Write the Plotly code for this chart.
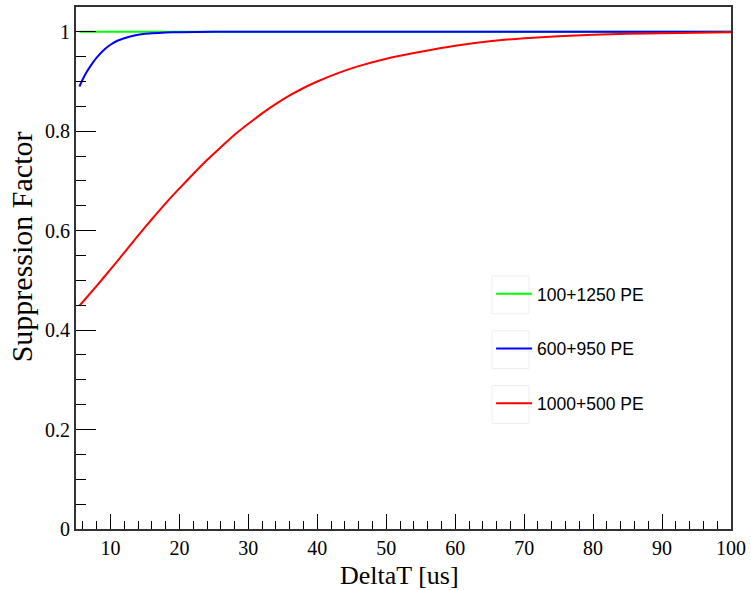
import plotly.graph_objects as go

# ---- data ----
t_green = [5.5, 10, 20, 30, 40, 50, 60, 70, 80, 90, 100]
v_green = [1.0, 1.0, 1.0, 1.0, 1.0, 1.0, 1.0, 1.0, 1.0, 1.0, 1.0]

t_blue = [5.5, 6.0, 6.5, 7.0, 7.5, 8.0, 9.0, 10, 11, 12, 13, 14, 15, 16, 18, 20, 25, 30,
          40, 50, 60, 70, 80, 90, 100]
v_blue = [0.890, 0.905, 0.918, 0.929, 0.939, 0.948, 0.963, 0.974, 0.982, 0.987, 0.991,
          0.994, 0.996, 0.997, 0.9985, 0.9993, 0.9999, 1.0, 1.0, 1.0, 1.0, 1.0, 1.0, 1.0, 1.0]

t_red = [5.5, 8, 10, 12, 14, 16, 18, 20, 22, 24, 26, 28, 30, 32, 34, 36, 38, 40, 43, 46,
         50, 55, 60, 65, 70, 75, 80, 85, 90, 95, 100]
v_red = [0.449, 0.489, 0.522, 0.556, 0.590, 0.623, 0.655, 0.685, 0.714, 0.742, 0.768,
         0.793, 0.815, 0.836, 0.855, 0.872, 0.887, 0.900, 0.917, 0.931, 0.946, 0.960,
         0.972, 0.981, 0.987, 0.991, 0.994, 0.996, 0.997, 0.998, 0.999]

names = ["100+1250 PE", "600+950 PE", "1000+500 PE"]
colors = ["#00ff00", "#0000ff", "#ff0000"]

x_title = "DeltaT [us]"
y_title = "Suppression Factor"

# ---- figure ----
fig = go.Figure()
for i, (tx, vy) in enumerate([(t_green, v_green), (t_blue, v_blue), (t_red, v_red)]):
    fig.add_trace(go.Scatter(
        x=tx, y=vy, mode="lines", name=names[i], legendgroup=f"g{i}",
        line=dict(color=colors[i], width=2, shape="spline", smoothing=0.6),
    ))

L, R, T, B = 76, 17, 5, 61
W, H = 751, 590
pw, ph = W - L - R, H - T - B

def px_x(p):
    return (p - L) / pw

def px_y(p):
    return (H - B - p) / ph

serif = "Liberation Serif"
fig.update_layout(
    width=W, height=H,
    margin=dict(l=L, r=R, t=T, b=B, pad=0),
    paper_bgcolor="white", plot_bgcolor="white",
    font=dict(family=serif, size=20, color="black"),
    showlegend=True,
    legend=dict(
        x=px_x(493), y=px_y(275), xanchor="left", yanchor="top",
        bgcolor="rgba(0,0,0,0)", borderwidth=0,
        font=dict(family="Liberation Sans", size=17.5, color="black"),
        tracegroupgap=29, itemwidth=36,
    ),
    xaxis=dict(
        range=[5, 100], showgrid=False, zeroline=False,
        showline=True, linecolor="#333333", linewidth=2, mirror=True,
        ticks="inside", ticklen=15, tickcolor="black", tickwidth=1,
        tick0=0, dtick=10,
        minor=dict(ticks="inside", ticklen=8, tickcolor="black", tickwidth=1, tick0=0, dtick=2, showgrid=False),
        tickfont=dict(family=serif, size=20, color="black"),
    ),
    yaxis=dict(
        range=[0, 1.0499], showgrid=False, zeroline=False,
        showline=True, linecolor="#333333", linewidth=2, mirror=True,
        ticks="inside", ticklen=20, tickcolor="black", tickwidth=1,
        tick0=0, dtick=0.2, tickformat="~g",
        minor=dict(ticks="inside", ticklen=10, tickcolor="black", tickwidth=1, tick0=0, dtick=0.05, showgrid=False),
        tickfont=dict(family=serif, size=20, color="black"),
    ),
    annotations=[
        dict(text=x_title, xref="paper", yref="paper", x=px_x(401), y=px_y(576),
             xanchor="center", yanchor="middle", showarrow=False,
             font=dict(family=serif, size=26, color="black")),
        dict(text=y_title, xref="paper", yref="paper", x=px_x(21), y=px_y(246),
             xanchor="center", yanchor="middle", showarrow=False, textangle=-90,
             font=dict(family=serif, size=30, color="black")),
    ],
)

# light boxes around legend symbols
for yc in [294, 349, 404]:
    fig.add_shape(type="rect", xref="paper", yref="paper",
                  x0=px_x(494), x1=px_x(531), y0=px_y(yc - 19), y1=px_y(yc + 19),
                  line=dict(color="#eeeeee", width=1), fillcolor="rgba(0,0,0,0)", layer="below")

fig.write_html("out.html")
